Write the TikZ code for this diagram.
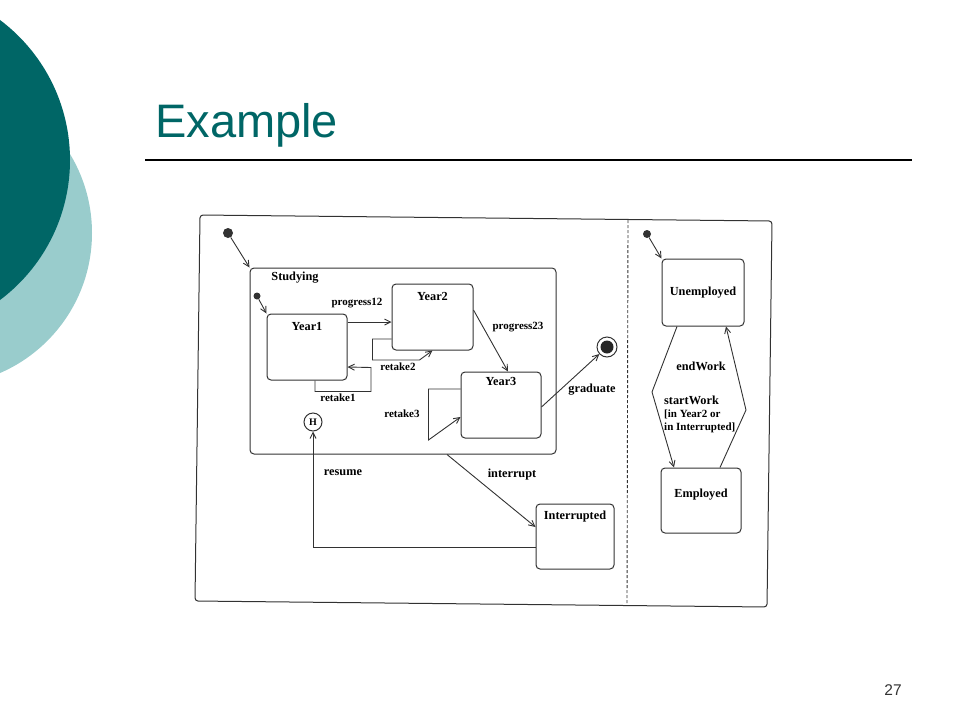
\documentclass[tikz,border=0pt]{standalone}
\usepackage{fontspec}
\setmainfont{Liberation Serif}
\newfontfamily\slidefont{Liberation Sans}
\usetikzlibrary{arrows.meta,positioning}
\definecolor{tealdark}{RGB}{0,102,102}
\definecolor{teallight}{RGB}{153,204,204}
\definecolor{ink}{RGB}{50,50,50}
\tikzset{
	state/.style={draw=ink, line width=1pt, rounded corners=4pt, inner sep=0pt, font=\bfseries\fontsize{12.3}{14}\selectfont},
	boxname/.style={anchor=north, yshift=-8pt, inner sep=1pt, font=\bfseries\fontsize{12.3}{14}\selectfont},
	trans/.style={draw=ink, line width=0.9pt, -{Straight Barb[length=6pt,width=6pt]}},
	lab/.style={inner sep=1pt, font=\bfseries\fontsize{11}{13}\selectfont},
	biglab/.style={inner sep=1pt, font=\bfseries\fontsize{12.3}{14}\selectfont},
	startdot/.style={circle, fill=ink, inner sep=0pt, minimum size=#1},
}
\begin{document}
\begin{tikzpicture}[x=1pt,y=-1pt]
	\useasboundingbox (0,0) rectangle (960,720);
	\begin{scope}
		\clip (0,0) rectangle (960,720);
		\fill[teallight] (-60.5,233) circle (152.5pt);
		\fill[tealdark] (-105,160) circle (175pt);
	\end{scope}
	\node[anchor=base west, inner sep=0pt, text=tealdark, font=\slidefont\fontsize{47}{50}\selectfont] (title) at (155,137) {Example};
	\draw[line width=1.2pt] (145,160) -- (912,160);
	\node[inner sep=0pt, text=black!80, font=\slidefont\fontsize{15.5}{17}\selectfont] (pagenum) at (893,690.5) {27};

	\draw[ink, line width=1pt, rounded corners=3pt] (200,215) -- (772,221) -- (767,607) -- (195,601) -- cycle;
	\draw[ink, line width=0.9pt, dash pattern=on 3pt off 2pt] (628,220) -- (627,604);

	\node[state, minimum width=306, minimum height=186] (studying) at (403,361) {};
	\node[biglab] (studyname) at (295,278) {Studying};
	\node[state, minimum width=80, minimum height=66, label={[boxname]north:Year1}] (year1) at (307,347) {};
	\node[state, minimum width=81, minimum height=66, label={[boxname]north:Year2}] (year2) at (432.5,317) {};
	\node[state, minimum width=80, minimum height=66, label={[boxname, yshift=3pt]north:Year3}] (year3) at (501,405) {};
	\node[state, minimum width=78, minimum height=65, label={[boxname, yshift=2pt]north:Interrupted}] (interrupted) at (575,536.5) {};
	\node[state, minimum width=82, minimum height=67] (unemployed) at (703,292.5) {Unemployed};
	\node[state, minimum width=80, minimum height=65, text depth=14pt] (employed) at (701,500.5) {Employed};

	\node[startdot=10pt] (init0) at (228,233) {};
	\node[startdot=7pt] (init1) at (257,296) {};
	\node[startdot=8pt] (init2) at (647,234) {};
	\node[draw=ink, line width=1pt, circle, minimum size=18pt, inner sep=0pt, font=\bfseries\fontsize{10}{12}\selectfont] (hist) at (313,422) {H};
	\node[draw=ink, line width=1pt, circle, minimum size=20pt, inner sep=0pt] (final) at (607,347) {};
	\fill[black!85] (final) circle (6.5pt);

	\draw[trans] (init0) -- (studying.north west);
	\draw[trans] (init1) -- (year1.north west);
	\draw[trans] (init2) -- (unemployed.north west);
	\draw[trans] ([yshift=25pt]year1.east) -- ([yshift=-5pt]year2.west);
	\draw[trans] ([yshift=-22pt]year2.west) -- ++(-19,0) -- ++(0,21) -- ++(47,0) -- (year2.south);
	\draw[trans] ([xshift=8pt]year1.south) -- ++(0,11) -- ++(56,0) -- ++(0,-24) -- ([yshift=-20pt]year1.east);
	\draw[trans] ([yshift=7pt]year2.east) -- ([xshift=7pt]year3.north);
	\draw[trans] ([yshift=16pt]year3.west) -- ++(-32,0) -- ++(0,51) -- ([yshift=-12pt]year3.west);
	\draw[trans] ([yshift=-2pt]year3.east) -- (final);
	\draw[trans] ([xshift=44pt]studying.south) -- ([yshift=9.5pt]interrupted.west);
	\draw[trans] ([yshift=-10.5pt]interrupted.west) -| (hist);
	\draw[trans] ([xshift=-26pt]unemployed.south) -- (652,392) -- ([xshift=-27pt]employed.north);
	\draw[trans] ([xshift=19pt]employed.north) -- (746,410) -- ([xshift=23pt]unemployed.south);

	\node[lab] (p12) at (357,303) {progress12};
	\node[lab] (r2) at (398,367) {retake2};
	\node[lab] (r1) at (338,398) {retake1};
	\node[lab] (p23) at (518,327) {progress23};
	\node[lab] (r3) at (402,414) {retake3};
	\node[biglab] (grad) at (592,390) {graduate};
	\node[biglab] (res) at (343,473) {resume};
	\node[biglab] (intr) at (512,475) {interrupt};
	\node[biglab] (endw) at (701,366) {endWork};
	\node[lab, align=left, anchor=north west] (startw) at (663,395) {{\fontsize{12.3}{13.5}\selectfont startWork}\\{}[in Year2 or\\in Interrupted]};
\end{tikzpicture}
\end{document}
